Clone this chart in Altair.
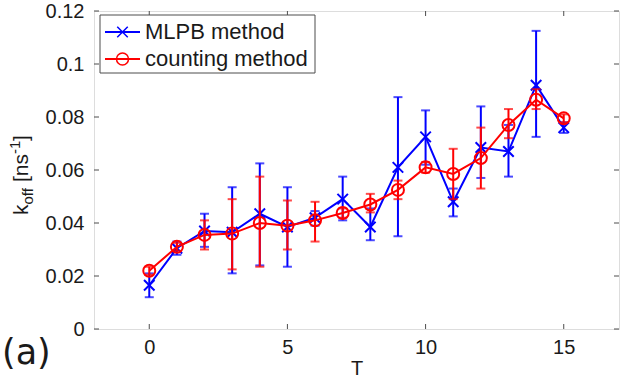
import altair as alt
import pandas as pd

# ---------------- data ----------------
T = list(range(16))
series_names = ["MLPB method", "counting method"]
series_colors = ["#0000ff", "#ff0000"]

mlpb_val = [0.0165, 0.0305, 0.0370, 0.0365, 0.0435, 0.0385, 0.0420, 0.0490,
            0.0385, 0.0610, 0.0725, 0.0480, 0.0685, 0.0670, 0.0920, 0.0760]
mlpb_lo = [0.0120, 0.0280, 0.0310, 0.0210, 0.0240, 0.0235, 0.0390, 0.0410,
           0.0335, 0.0350, 0.0620, 0.0425, 0.0570, 0.0575, 0.0725, 0.0740]
mlpb_hi = [0.0210, 0.0330, 0.0435, 0.0535, 0.0625, 0.0535, 0.0445, 0.0575,
           0.0455, 0.0875, 0.0825, 0.0530, 0.0840, 0.0770, 0.1125, 0.0780]

cnt_val = [0.0220, 0.0310, 0.0355, 0.0360, 0.0400, 0.0390, 0.0410, 0.0438,
           0.0470, 0.0525, 0.0610, 0.0585, 0.0645, 0.0770, 0.0865, 0.0795]
cnt_lo = [0.0205, 0.0295, 0.0300, 0.0225, 0.0235, 0.0300, 0.0330, 0.0420,
          0.0440, 0.0490, 0.0590, 0.0490, 0.0530, 0.0720, 0.0830, 0.0780]
cnt_hi = [0.0235, 0.0325, 0.0410, 0.0490, 0.0575, 0.0485, 0.0480, 0.0455,
          0.0510, 0.0560, 0.0630, 0.0680, 0.0760, 0.0830, 0.0905, 0.0810]

x_ticks = [0, 5, 10, 15]
y_ticks = [0, 0.02, 0.04, 0.06, 0.08, 0.1, 0.12]
x_domain = [-2, 17]
y_domain = [0, 0.12]
x_title = "T"
y_title_parts = ["k", "off", "[ns", "-1", "]"]
panel_label = "(a)"

# ---------------- build table ----------------
rows = []
for name, vals, los, his in [(series_names[0], mlpb_val, mlpb_lo, mlpb_hi),
                             (series_names[1], cnt_val, cnt_lo, cnt_hi)]:
    for t, v, lo, hi in zip(T, vals, los, his):
        rows.append({"T": t, "series": name, "value": v, "lo": lo, "hi": hi})
df = pd.DataFrame(rows)

W, H = 525, 318
FONT = "Liberation Sans"
AX = "#4d4d4d"
TXT = "#1a1a1a"

xs = alt.Scale(domain=x_domain, nice=False, zero=False)
ys = alt.Scale(domain=y_domain, nice=False, zero=False)
xaxis = alt.Axis(values=x_ticks, title=x_title, grid=False, ticks=False, domain=False,
                 labelFont=FONT, labelFontSize=20, labelColor=TXT, labelPadding=8,
                 titleFont=FONT, titleFontSize=20, titleFontWeight="normal",
                 titleColor=TXT, titlePadding=1)
yaxis = alt.Axis(values=y_ticks, title=None, format=".2~f", grid=False, ticks=False,
                 domain=False, labelFont=FONT, labelFontSize=20, labelColor=TXT,
                 labelPadding=10, labelOverlap=False)


def X(field):
    return alt.X(field, type="quantitative", scale=xs, axis=xaxis)


def Y(field):
    return alt.Y(field, type="quantitative", scale=ys, axis=yaxis)


x_marker = "M-1,-1L1,1M-1,1L1,-1"
markers = [dict(shape=x_marker, size=110), dict(shape="circle", size=144)]

layers = []
for name, col, mk in zip(series_names, series_colors, markers):
    base = alt.Chart(df).transform_filter(alt.datum.series == name)
    layers.append(base.mark_rule(color=col, strokeWidth=2).encode(
        x=X("T"), y=Y("lo"), y2="hi"))
    layers.append(base.mark_point(shape="stroke", size=81, color=col, strokeWidth=2).encode(
        x=X("T"), y=Y("lo")))
    layers.append(base.mark_point(shape="stroke", size=81, color=col, strokeWidth=2).encode(
        x=X("T"), y=Y("hi")))
    layers.append(base.mark_line(color=col, strokeWidth=2).encode(x=X("T"), y=Y("value")))
    layers.append(base.mark_point(filled=False, color=col, strokeWidth=2, opacity=1,
                                  **mk).encode(x=X("T"), y=Y("value")))

# inward ticks on all four sides
xt = pd.DataFrame({"t": x_ticks})
yt = pd.DataFrame({"t": y_ticks})
layers.append(alt.Chart(xt).mark_rule(color=AX, strokeWidth=1).encode(
    x=X("t"), y=alt.value(H), y2=alt.value(H - 5)))
layers.append(alt.Chart(xt).mark_rule(color=AX, strokeWidth=1).encode(
    x=X("t"), y=alt.value(0), y2=alt.value(5)))
layers.append(alt.Chart(yt).mark_rule(color=AX, strokeWidth=1).encode(
    y=Y("t"), x=alt.value(0), x2=alt.value(5)))
layers.append(alt.Chart(yt).mark_rule(color=AX, strokeWidth=1).encode(
    y=Y("t"), x=alt.value(W), x2=alt.value(W - 5)))

# legend (manual, MATLAB style)
one = pd.DataFrame({"label": [""]})
layers.append(alt.Chart(one).mark_rect(fill="white", stroke=AX, strokeWidth=1).encode(
    x=alt.value(6), x2=alt.value(221), y=alt.value(4), y2=alt.value(62)))
for i, (name, col, mk) in enumerate(zip(series_names, series_colors, markers)):
    yy = 21 + 27 * i
    lab = pd.DataFrame({"label": [name]})
    layers.append(alt.Chart(lab).mark_rule(color=col, strokeWidth=2).encode(
        x=alt.value(11), x2=alt.value(46), y=alt.value(yy)))
    layers.append(alt.Chart(lab).mark_point(filled=False, color=col, strokeWidth=1.5,
                                            opacity=1, **mk).encode(
        x=alt.value(28.5), y=alt.value(yy)))
    layers.append(alt.Chart(lab).mark_text(align="left", baseline="middle", font=FONT,
                                           fontSize=22, color=TXT).encode(
        x=alt.value(51), y=alt.value(yy), text="label:N"))

# y-axis title with subscript / superscript
pieces = [
    (y_title_parts[0], 21, -66, 204),
    (y_title_parts[1], 15, -61, 193.5),
    (y_title_parts[2], 21, -66, 171),
    (y_title_parts[3], 15, -74, 143),
    (y_title_parts[4], 21, -66, 130),
]
for txt, fs, px, py in pieces:
    lab = pd.DataFrame({"label": [txt]})
    layers.append(alt.Chart(lab).mark_text(angle=270, align="left", baseline="alphabetic",
                                           font=FONT, fontSize=fs, color=TXT).encode(
        x=alt.value(px), y=alt.value(py), text="label:N"))

# panel label
lab = pd.DataFrame({"label": [panel_label]})
layers.append(alt.Chart(lab).mark_text(align="left", baseline="alphabetic",
                                       font="DejaVu Sans", fontSize=35, color=TXT).encode(
    x=alt.value(-92), y=alt.value(353), text="label:N"))

chart = alt.layer(*layers).properties(
    width=W, height=H,
    padding={"left": 94, "top": 11, "right": 4, "bottom": 49},
    autosize=alt.AutoSizeParams(type="none"),
).configure_view(stroke=AX, strokeWidth=1).configure(background="white")

chart.save("out.html", embed_options={"renderer": "svg", "actions": False})
